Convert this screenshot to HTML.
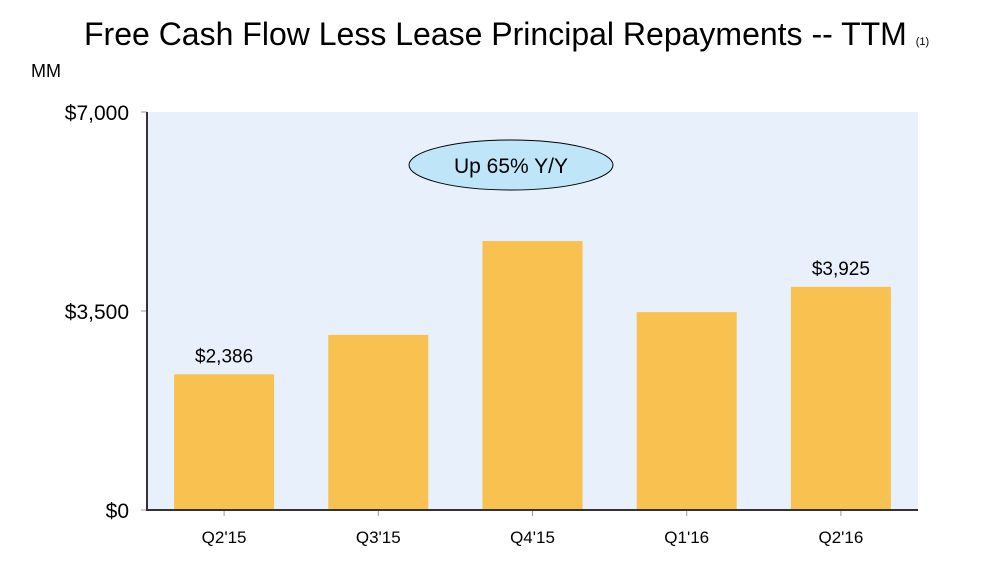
<!DOCTYPE html>
<html><head><meta charset="utf-8"><style>
body{margin:0;background:#fff;font-family:"Liberation Sans",sans-serif;}
svg{display:block}
</style></head><body>
<svg id="c" width="986" height="561">
<text x="84" y="45" font-size="32" fill="#000">Free Cash Flow Less Lease Principal Repayments -- TTM <tspan font-size="11">(1)</tspan></text>
<text x="31" y="77" font-size="18" fill="#000">MM</text>
<rect x="147" y="112" width="771" height="398" fill="#e8f0fc"/>
<g id="bars"></g>
<g id="axes"></g>
<g>
<ellipse cx="511" cy="165" rx="102" ry="25" fill="#bfe6f8" stroke="#000" stroke-width="1"/>
<text x="511" y="173" font-size="21" text-anchor="middle">Up 65% Y/Y</text>
</g>
</svg>
<script>
const categories=["Q2'15","Q3'15","Q4'15","Q1'16","Q2'16"];
const values=[2386,3080,4730,3480,3925];
const labels=["$2,386","","","","$3,925"];
const tickValues=[0,3500,7000];
const tickLabels=["$0","$3,500","$7,000"];
const NS="http://www.w3.org/2000/svg";
const x0=147,x1=918,y0=510,y1=112,maxV=7000;
const band=(x1-x0)/categories.length;
function y(v){return y0-(v/maxV)*(y0-y1);}
function xc(i){return x0+band*(i+0.5);}
function mk(t,a,p){const e=document.createElementNS(NS,t);for(const k in a)e.setAttribute(k,a[k]);p.appendChild(e);return e;}
const bars=document.getElementById('bars'),axes=document.getElementById('axes');
values.forEach((v,i)=>{
 const r=mk('rect',{x:xc(i)-50,y:y(v),width:100,height:y0-y(v),fill:'#f9c14f'},bars);
 
 
 if(labels[i]){const t=mk('text',{x:xc(i),y:y(v)-12,'font-size':19,'text-anchor':'middle',fill:'#000'},bars);t.textContent=labels[i];
 
 }
 const tk=mk('line',{x1:xc(i),x2:xc(i),y1:y0,y2:y0+6,stroke:'#999'},axes);
 
 
 const t=mk('text',{x:xc(i),y:y0+33,'font-size':17,'text-anchor':'middle',fill:'#000'},axes);t.textContent=categories[i];
 
 
});
tickValues.forEach((v,i)=>{
 const l=mk('line',{x1:x0-6,x2:x0,y1:y(v),y2:y(v),stroke:'#999'},axes);
 
 
 const t=mk('text',{x:x0-18,y:y(v)+8,'font-size':21,'text-anchor':'end',fill:'#000'},axes);t.textContent=tickLabels[i];
 
 
});
const ya=mk('line',{x1:x0,x2:x0,y1:y1,y2:y0+1,stroke:'#333','stroke-width':2},axes);


const xa=mk('line',{x1:x0-1,x2:x1,y1:y0,y2:y0,stroke:'#333','stroke-width':2},axes);


</script>
</body></html>
